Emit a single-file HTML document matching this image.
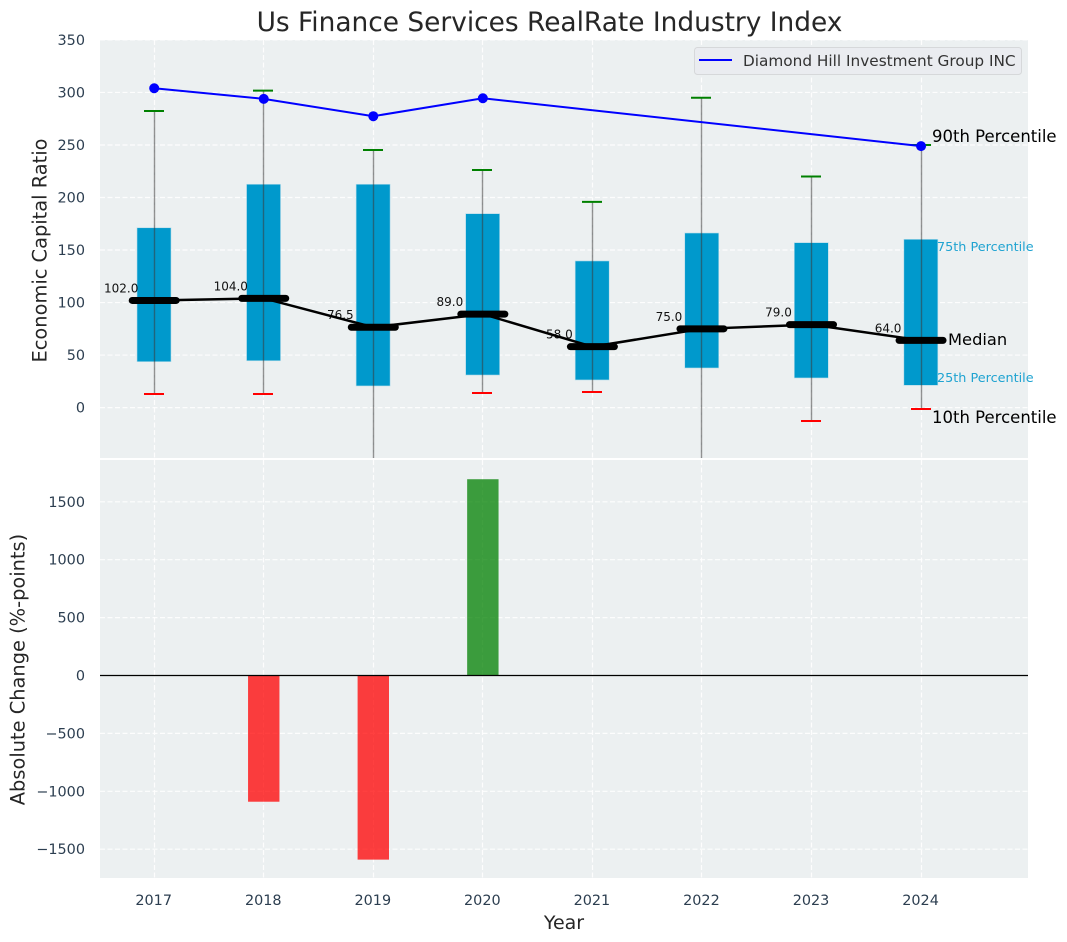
<!DOCTYPE html>
<html lang="en">
<head>
<meta charset="utf-8">
<title>Us Finance Services RealRate Industry Index</title>
<style>
html,body{margin:0;padding:0;background:#fff;}
svg{display:block;font-family:"DejaVu Sans","Liberation Sans",sans-serif;}
</style>
</head>
<body>
<svg id="chart" xmlns="http://www.w3.org/2000/svg" width="1067" height="942" viewBox="0 0 1067 942">
  <defs>
    <clipPath id="top-clip"><rect x="100" y="40" width="928" height="418"></rect></clipPath>
    <clipPath id="bottom-clip"><rect x="100" y="460" width="928" height="418"></rect></clipPath>
  </defs>
  <rect x="100" y="40" width="928" height="418" fill="#ecf0f1"></rect>
  <rect x="100" y="460" width="928" height="418" fill="#ecf0f1"></rect>
  <g id="grid-layer"></g>
  <g id="top-layer" clip-path="url(#top-clip)"></g>
  <g id="bottom-layer" clip-path="url(#bottom-clip)"></g>
  <g id="text-layer"></g>
  <text x="549.5" y="31" text-anchor="middle" font-size="26.4" fill="#262626">Us Finance Services RealRate Industry Index</text>
  <text transform="translate(46.5 250.5) rotate(-90)" text-anchor="middle" font-size="19.4" fill="#262626">Economic Capital Ratio</text>
  <text transform="translate(24.5 669.5) rotate(-90)" text-anchor="middle" font-size="19.4" fill="#262626">Absolute Change (%-points)</text>
  <text x="564" y="929" text-anchor="middle" font-size="19" fill="#262626">Year</text>
  <g>
    <rect x="694.5" y="47.5" width="327" height="27" rx="3" fill="#eaecf0" stroke="#d6d8da" stroke-width="1"></rect>
    <line x1="699" y1="60" x2="732" y2="60" stroke="#0000ff" stroke-width="2"></line>
    <text x="743" y="66" font-size="15.3" fill="#333">Diamond Hill Investment Group INC</text>
  </g>
  <text x="932" y="142" font-size="16.5" fill="#000">90th Percentile</text>
  <text x="937" y="251" font-size="12.8" fill="#1fa3d1">75th Percentile</text>
  <text x="948" y="345" font-size="16.3" fill="#000">Median</text>
  <text x="937" y="382" font-size="12.8" fill="#1fa3d1">25th Percentile</text>
  <text x="932" y="423" font-size="16.5" fill="#000">10th Percentile</text>
</svg>
<script>
const years = [2017, 2018, 2019, 2020, 2021, 2022, 2023, 2024];
const p90 = [282.3, 301.7, 245.2, 226.2, 195.8, 295, 220, 250];
const p75 = [171.2, 212.6, 212.6, 184.6, 139.6, 166.2, 157, 160.2];
const median = [102, 104, 76.5, 89, 58, 75, 79, 64];
const p25 = [43.7, 44.6, 20.6, 31, 26.3, 37.7, 28.2, 21.2];
const p10 = [13, 13, -60, 13.9, 14.9, -55, -12.8, -1.3];
const company = [304, 293.9, 277.4, 294.5, null, null, null, 248.9];
const changes = [null, -1090, -1590, 1695, null, null, null, null];
const topTicks = [0, 50, 100, 150, 200, 250, 300, 350];
const bottomTicks = [-1500, -1000, -500, 0, 500, 1000, 1500];

const NS = 'http://www.w3.org/2000/svg';
function xScale(year) { return 154.2 + (year - 2017) * 109.55; }
function snap(v) { return Math.floor(v) + 0.5; }
function yTop(v) { return 407.6 - v * 1.0505; }
function yBottom(v) { return 675.5 - v * 0.1158; }
function make(tag, parent, attrs, text) {
  const el = document.createElementNS(NS, tag);
  for (const k in attrs) el.setAttribute(k, attrs[k]);
  if (text !== undefined) el.textContent = text;
  parent.appendChild(el);
  return el;
}
const gridLayer = document.getElementById('grid-layer');
const topLayer = document.getElementById('top-layer');
const bottomLayer = document.getElementById('bottom-layer');
const textLayer = document.getElementById('text-layer');
const gridStyle = { stroke: '#ffffff', 'stroke-width': 1.2, 'stroke-dasharray': '5 2.5', opacity: 0.9 };
const tickColor = '#2c3e50';

topTicks.forEach(function (t) {
  const y = yTop(t);
  const g = make('line', gridLayer, Object.assign({ x1: 100, x2: 1028, y1: y, y2: y }, gridStyle));
  
  
  const l = make('text', textLayer, { x: 85, y: y + 5, 'text-anchor': 'end', 'font-size': 14.4, fill: tickColor }, String(t));
  
  
});
bottomTicks.forEach(function (t) {
  const y = yBottom(t);
  if (t !== 0) {
    const g = make('line', gridLayer, Object.assign({ x1: 100, x2: 1028, y1: y, y2: y }, gridStyle));
    
    
  }
  const label = t < 0 ? '\u2212' + Math.abs(t) : String(t);
  const l = make('text', textLayer, { x: 85, y: y + 5, 'text-anchor': 'end', 'font-size': 14.4, fill: tickColor }, label);
  
  
});
years.forEach(function (yr) {
  const x = snap(xScale(yr));
  const g1 = make('line', gridLayer, Object.assign({ x1: x, x2: x, y1: 40, y2: 458 }, gridStyle));
  
  
  const g2 = make('line', gridLayer, Object.assign({ x1: x, x2: x, y1: 460, y2: 878 }, gridStyle));
  
  
  const l = make('text', textLayer, { x: xScale(yr) - 0.5, y: 905, 'text-anchor': 'middle', 'font-size': 14.4, fill: tickColor }, String(yr));
  
  
});

/* interquartile boxes */
years.forEach(function (yr, i) {
  const x = xScale(yr);
  const y = yTop(p75[i]);
  const r = make('rect', topLayer, { x: x - 17.2, y: y, width: 34, height: yTop(p25[i]) - y, fill: '#0099cc', stroke: '#b5dcea', 'stroke-width': 0.6 });
  
  
});
/* whiskers */
years.forEach(function (yr, i) {
  const x = snap(xScale(yr));
  const w = make('line', topLayer, { x1: x, x2: x, y1: yTop(p90[i]), y2: yTop(p10[i]), stroke: '#3a3a3a', 'stroke-opacity': 0.55, 'stroke-width': 1.4 });
  
  
  const hi = make('line', topLayer, { x1: x - 10.5, x2: x + 9.5, y1: yTop(p90[i]), y2: yTop(p90[i]), stroke: '#008000', 'stroke-width': 2 });
  
  
  const lo = make('line', topLayer, { x1: x - 10.5, x2: x + 9.5, y1: yTop(p10[i]), y2: yTop(p10[i]), stroke: '#ff0000', 'stroke-width': 2 });
  
  
});
/* median value labels */
years.forEach(function (yr, i) {
  const t = make('text', topLayer, { x: xScale(yr) - 33, y: yTop(median[i]) - 8, 'text-anchor': 'middle', 'font-size': 12, fill: '#111' }, median[i].toFixed(1));
  
  
});
/* median trend line and bars */
const medianPts = years.map(function (yr, i) { return xScale(yr) + ',' + yTop(median[i]); }).join(' ');
const medLine = make('polyline', topLayer, { points: medianPts, fill: 'none', stroke: '#000', 'stroke-width': 2.5 });


years.forEach(function (yr, i) {
  const x = xScale(yr);
  const m = make('line', topLayer, { x1: x - 22, x2: x + 22, y1: yTop(median[i]), y2: yTop(median[i]), stroke: '#000', 'stroke-width': 7, 'stroke-linecap': 'round' });
  
  
});
/* company series */
const companyPts = [];
years.forEach(function (yr, i) {
  if (company[i] !== null) companyPts.push(xScale(yr) + ',' + yTop(company[i]));
});
const compLine = make('polyline', topLayer, { points: companyPts.join(' '), fill: 'none', stroke: '#0000ff', 'stroke-width': 2 });


years.forEach(function (yr, i) {
  if (company[i] === null) return;
  const c = make('circle', topLayer, { cx: xScale(yr), cy: yTop(company[i]), r: 5, fill: '#0000ff' });
  
  
});
/* change bars */
years.forEach(function (yr, i) {
  if (changes[i] === null) return;
  const x = xScale(yr);
  const y0 = yBottom(0);
  const y1 = yBottom(changes[i]);
  const b = make('rect', bottomLayer, { x: x - 15.7, y: Math.min(y0, y1), width: 31.4, height: Math.abs(y1 - y0), fill: changes[i] < 0 ? '#ff0000' : '#008000', 'fill-opacity': 0.75 });
  
  
});
const zero = make('line', bottomLayer, { x1: 100, x2: 1028, y1: yBottom(0), y2: yBottom(0), stroke: '#000', 'stroke-width': 1.2 });


</script>
</body>
</html>
